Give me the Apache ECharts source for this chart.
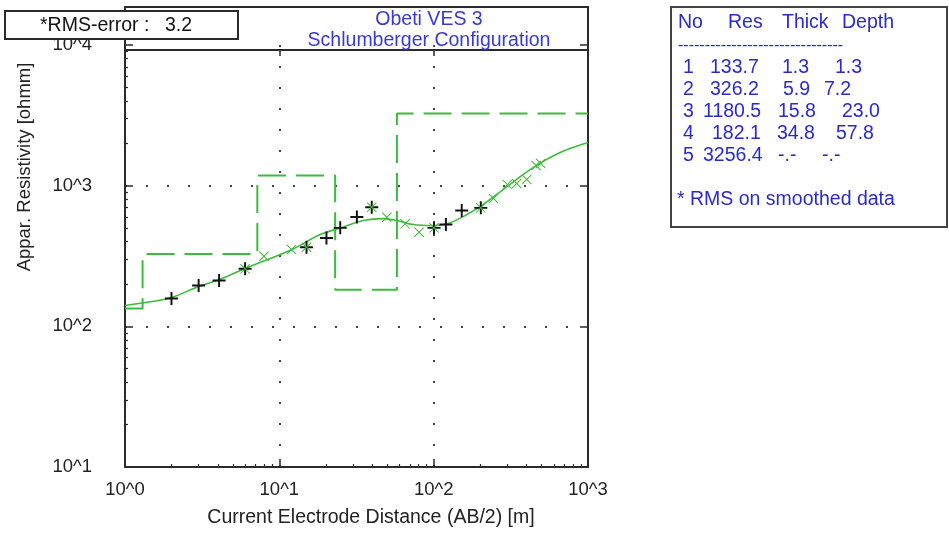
<!DOCTYPE html>
<html><head><meta charset="utf-8">
<script src="https://cdn.jsdelivr.net/npm/echarts@6/dist/echarts.min.js"></script>
<style>html,body{margin:0;padding:0;background:#fff}#c{width:949px;height:539px}</style>
</head><body><div id="c"></div>
<script>
// ---- data ----
const layerNo = [1, 2, 3, 4, 5];
const layerRes = [133.7, 326.2, 1180.5, 182.1, 3256.4];
const layerThick = [1.3, 5.9, 15.8, 34.8, null];
const layerDepth = [1.3, 7.2, 23.0, 57.8, null];

const curveAB  = [1.0, 1.5, 2.0, 3.0, 4.1, 6.0, 12.1, 18.4, 25.5, 34.9, 47, 58, 73.5, 99, 124, 164, 209, 299, 441, 660, 1000];
const curveRho = [140.6, 150, 160.2, 192, 215, 257.6, 351.6, 449.2, 503.8, 564.9, 583.4, 564.9, 529.1, 520.5, 537.8, 623.1, 734.1, 985.4, 1345, 1719, 2025];

const fieldAB  = [2.0, 3.0, 4.07, 6.0, 15, 20.2, 24.8, 31.8, 39.7, 100.5, 120, 152, 202];
const fieldRho = [157.6, 195, 211.6, 256.3, 365, 424.3, 501.3, 598.2, 702.2, 501.3, 529, 665.3, 695.3];

const smoothAB  = [6.0, 7.95, 12.0, 15, 39.7, 49.7, 65.3, 80.4, 100.5, 202, 244, 300, 345, 401, 461, 494];
const smoothRho = [256.3, 314.9, 351.6, 365, 702.2, 596.3, 535.2, 466.4, 501.3, 695.3, 809.6, 1018, 1035, 1105, 1390, 1436];

const xTickValues = [1, 10, 100, 1000];
const xTickLabels = ['10^0', '10^1', '10^2', '10^3'];
const yTickValues = [10, 100, 1000, 10000];
const yTickLabels = ['10^1', '10^2', '10^3', '10^4'];

const rmsError = 3.2;
const titleLines = ['Obeti VES 3', 'Schlumberger Configuration'];
const xName = 'Current Electrode Distance (AB/2) [m]';
const yName = 'Appar. Resistivity [ohmm]';
const tableHeader = ['No', 'Res', 'Thick', 'Depth'];
const tableNote = '* RMS on smoothed data';

// ---- derived ----
const xMin = xTickValues[0], xMax = xTickValues[xTickValues.length - 1];
const yMin = yTickValues[0], yMax = yTickValues[yTickValues.length - 1];
const stepData = [];
layerRes.forEach((r, i) => {
  const top = i === 0 ? xMin : layerDepth[i - 1];
  const bot = layerDepth[i] == null ? xMax : layerDepth[i];
  stepData.push([top, r], [bot, r]);
});
const zip = (a, b) => a.map((v, i) => [v, b[i]]);
function minors(lo, hi) {
  const out = [];
  for (let d = lo; d < hi; d *= 10) for (let k = 2; k <= 9; k++) out.push(k * d);
  return out;
}
const fmtX = v => xTickLabels[xTickValues.findIndex(t => Math.abs(t - v) / t < 1e-6)] || '';
const fmtY = v => yTickLabels[yTickValues.findIndex(t => Math.abs(t - v) / t < 1e-6)] || '';

// ---- style ----
const FONT = "'Liberation Sans', Arial, sans-serif";
const AX = '#2b2b2b';
const GREEN = '#3cbc3c';
const BLUE = '#2a2acc';
const TITLE = '#3a3ad0';
const FS = 19.5;
const plusPath = 'path://M0,5.1H12V6.9H0Z M5.1,0H6.9V12H5.1Z';
const xPath = 'path://M0,0.7L0.7,0L10,9.3L9.3,10Z M9.3,0L10,0.7L0.7,10L0,9.3Z';

const grid = { left: 125, right: 361, top: 45, bottom: 72 };

function mainAxis(pos, ticks, fmt, showLabel, extra) {
  return Object.assign({
    type: 'log', logBase: 10, position: pos,
    axisLine: { show: true, lineStyle: { color: AX, width: 2 } },
    axisTick: { show: true, inside: true, length: 8, customValues: ticks, lineStyle: { color: AX, width: 1.5 } },
    axisLabel: { show: showLabel, customValues: ticks, formatter: fmt, color: '#222', fontSize: 18.5, fontFamily: FONT },
    splitLine: { show: false },
    minorTick: { show: false }
  }, extra);
}
function minorAxis(pos, vals) {
  return {
    type: 'log', logBase: 10, position: pos,
    axisLine: { show: false },
    axisTick: { show: true, inside: true, length: 3, customValues: vals, lineStyle: { color: AX, width: 1.2 } },
    axisLabel: { show: false },
    splitLine: { show: false }
  };
}
const dotted = { show: true, showMinLine: false, showMaxLine: false, lineStyle: { type: [2, 19], color: '#444', width: 2 } };

const xAxis = [
  mainAxis('bottom', xTickValues, fmtX, true, { min: xMin, max: xMax, splitLine: dotted, axisLabel: { show: true, customValues: xTickValues, formatter: fmtX, color: '#222', fontSize: 18.5, fontFamily: FONT, margin: 13 } }),
  Object.assign(minorAxis('bottom', minors(xMin, xMax)), { min: xMin, max: xMax }),
  mainAxis('top', xTickValues, fmtX, false, { min: xMin, max: xMax, offset: -5, axisTick: { show: true, inside: true, length: 6, customValues: xTickValues, lineStyle: { color: AX, width: 1.5 } } })
];
const yAxis = [
  mainAxis('left', yTickValues, fmtY, true, { min: yMin, max: yMax, splitLine: dotted, axisLabel: { show: true, customValues: yTickValues, formatter: fmtY, color: '#222', fontSize: 18.5, fontFamily: FONT, margin: 33 } }),
  Object.assign(minorAxis('left', minors(yMin, yMax)), { min: yMin, max: yMax }),
  mainAxis('right', yTickValues, fmtY, false, { min: yMin, max: yMax })
];

// table text layout
const headerX = [678, 728, 782, 842];
const resX = [710, 710, 703, 712, 703];
const thickX = [782, 783, 778, 777, 778];
const depthX = [835, 824, 842, 836, 822];
const rowY0 = 68, rowDY = 22;
const tstyle = (text, x, y, extra) => ({ type: 'text', x, y, style: Object.assign({ text, fill: BLUE, fontSize: FS, fontFamily: FONT, align: 'left', verticalAlign: 'middle' }, extra || {}) });
const tableEls = [];
tableEls.push({ type: 'rect', shape: { x: 671, y: 7, width: 276, height: 220 }, style: { fill: '#fff', stroke: '#444', lineWidth: 2 } });
tableHeader.forEach((h, i) => tableEls.push(tstyle(h, headerX[i], 23)));
tableEls.push(tstyle('-'.repeat(31), 678, 46, { fontSize: 16 }));
layerNo.forEach((n, i) => {
  const y = rowY0 + i * rowDY;
  tableEls.push(tstyle(String(n), 683, y));
  tableEls.push(tstyle(layerRes[i].toFixed(1), resX[i], y));
  tableEls.push(tstyle(layerThick[i] == null ? '-.-' : layerThick[i].toFixed(1), thickX[i], y));
  tableEls.push(tstyle(layerDepth[i] == null ? '-.-' : layerDepth[i].toFixed(1), depthX[i], y));
});
tableEls.push(tstyle(tableNote, 677, 200));

const graphic = [
  { type: 'rect', shape: { x: 125, y: 7, width: 463, height: 43 }, style: { fill: 'none', stroke: AX, lineWidth: 2 }, z: 10 },
  { type: 'rect', shape: { x: 5, y: 11, width: 233, height: 28 }, style: { fill: '#fff', stroke: AX, lineWidth: 2 }, z: 11 },
  { type: 'text', x: 40, y: 26, z: 12, style: { text: '*RMS-error :', fill: '#111', fontSize: FS, fontFamily: FONT, align: 'left', verticalAlign: 'middle' } },
  { type: 'text', x: 165, y: 26, z: 12, style: { text: rmsError.toFixed(1), fill: '#111', fontSize: FS, fontFamily: FONT, align: 'left', verticalAlign: 'middle' } },
  { type: 'text', x: 429, y: 20, z: 12, style: { text: titleLines[0], fill: TITLE, fontSize: FS, fontFamily: FONT, align: 'center', verticalAlign: 'middle' } },
  { type: 'text', x: 429, y: 41, z: 12, style: { text: titleLines[1], fill: TITLE, fontSize: FS, fontFamily: FONT, align: 'center', verticalAlign: 'middle' } },
  { type: 'text', x: 25, y: 167, rotation: Math.PI / 2, z: 12, style: { text: yName, fill: '#222', fontSize: 18.5, fontFamily: FONT, align: 'center', verticalAlign: 'middle' } },
  { type: 'text', x: 371, y: 518, z: 12, style: { text: xName, fill: '#222', fontSize: FS, fontFamily: FONT, align: 'center', verticalAlign: 'middle' } }
].concat(tableEls.map(e => Object.assign({ z: 12 }, e)));

const chart = echarts.init(document.getElementById('c'), null, { renderer: 'canvas' });
chart.setOption({
  backgroundColor: '#fff',
  animation: false,
  grid,
  xAxis, yAxis,
  graphic,
  series: [
    { type: 'line', name: 'model', data: stepData, showSymbol: false, symbol: 'none',
      lineStyle: { color: GREEN, width: 2, type: [28, 10] }, z: 3 },
    { type: 'line', name: 'calc', data: zip(curveAB, curveRho), smooth: 0.35, showSymbol: false, symbol: 'none',
      lineStyle: { color: GREEN, width: 1.6 }, z: 4 },
    { type: 'scatter', name: 'field', data: zip(fieldAB, fieldRho), symbol: plusPath, symbolSize: 13,
      itemStyle: { color: '#111', opacity: 1 }, z: 5 },
    { type: 'scatter', name: 'smoothed', data: zip(smoothAB, smoothRho), symbol: xPath, symbolSize: 10,
      itemStyle: { color: GREEN, opacity: 1 }, z: 6 }
  ]
});
</script></body></html>
